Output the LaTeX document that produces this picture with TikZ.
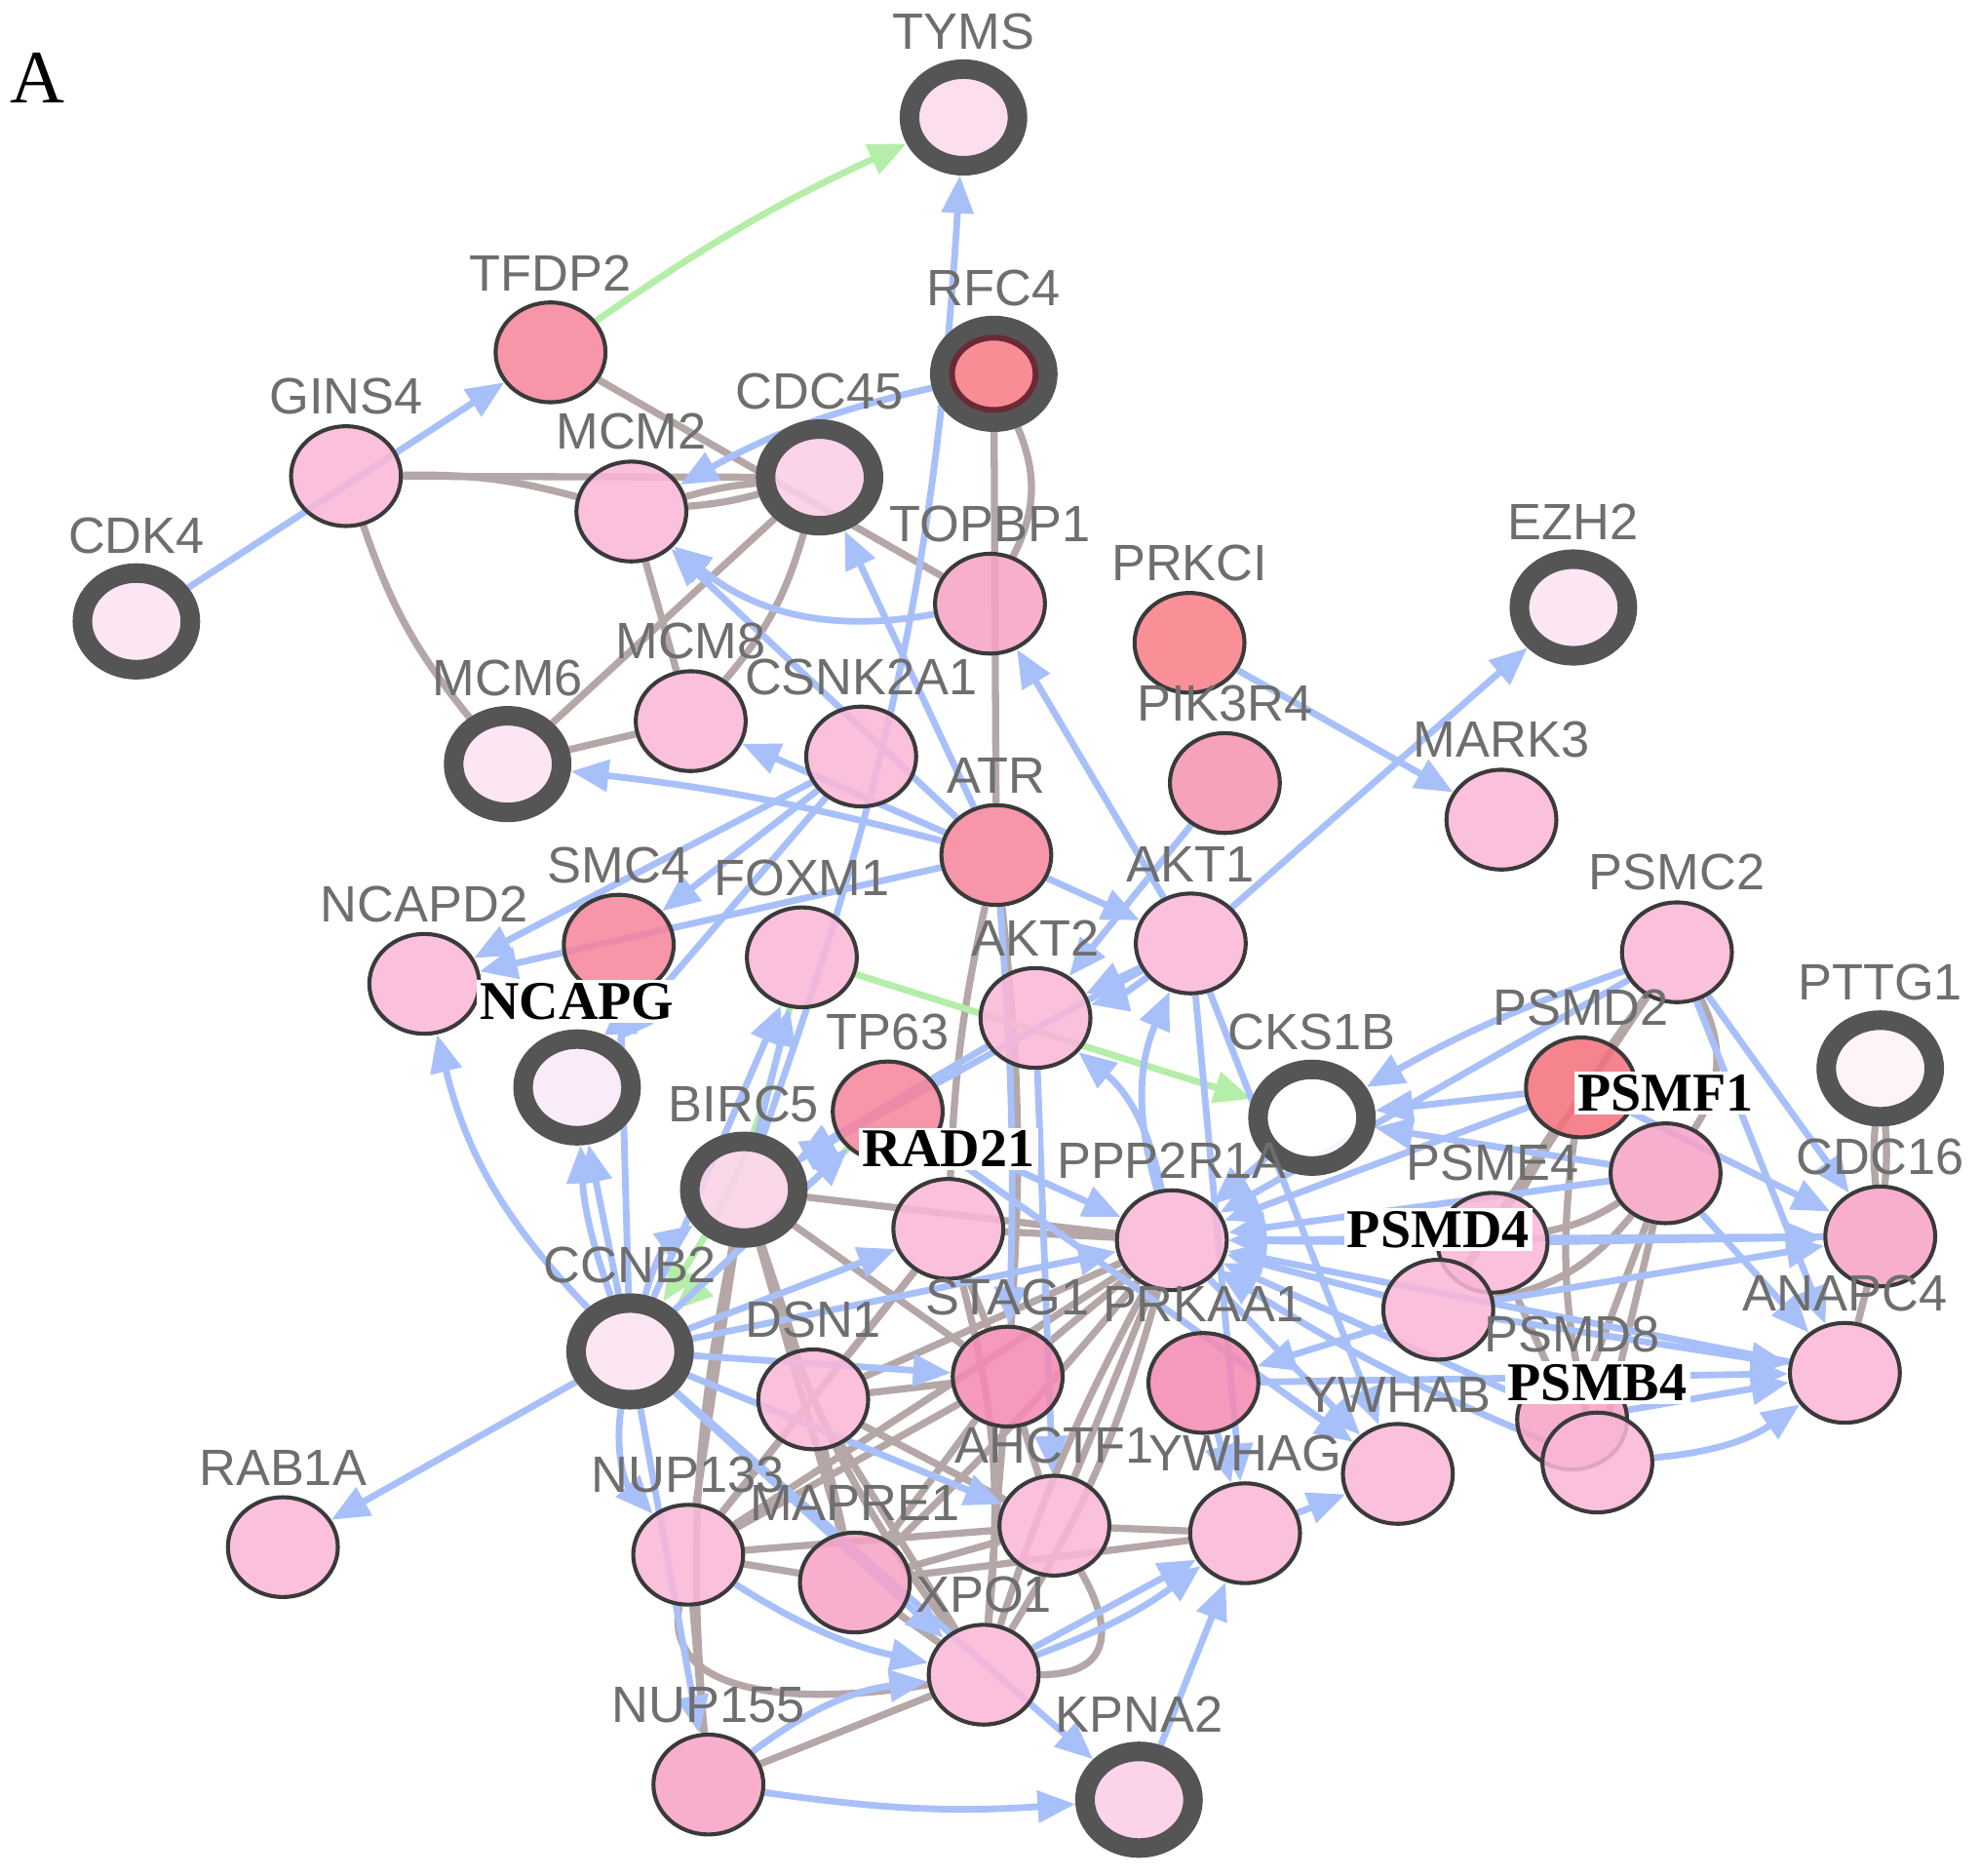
\documentclass[tikz,border=0pt]{standalone}
\usepackage{fontspec}
\setmainfont{Liberation Serif}
\newfontfamily\labfont{Liberation Sans}
\usetikzlibrary{arrows.meta,shapes.geometric,backgrounds}
\definecolor{blueE}{HTML}{A8C0FA}
\definecolor{brownE}{HTML}{B5A7A7}
\definecolor{greenE}{HTML}{B4EEA8}
\definecolor{ringC}{HTML}{555555}
\definecolor{bordC}{HTML}{3A3A3A}
\definecolor{labC}{HTML}{6E6E6E}
\definecolor{rfcin}{HTML}{6B2A35}
\definecolor{cL}{HTML}{FAB6D7}
\definecolor{cM}{HTML}{F8A2C7}
\definecolor{cS}{HTML}{F48AB3}
\definecolor{cP}{HTML}{F593B0}
\definecolor{cR}{HTML}{F6849C}
\definecolor{cRR}{HTML}{F97E88}
\definecolor{cPD}{HTML}{F5707D}
\definecolor{rTY}{HTML}{FCDAEC}
\definecolor{rCD}{HTML}{FCCFE7}
\definecolor{rLt}{HTML}{FDE3F2}
\definecolor{rNG}{HTML}{F9EAF8}
\definecolor{rPT}{HTML}{FEF3F7}
\definecolor{rBI}{HTML}{FBD2E8}
\newcommand\mylab[2]{\node[glabst, anchor=south] (#1-lab) at ([yshift=2pt]#1.north) {#2};}
\newcommand\myblab[2]{\node[blabst, anchor=south] (#1-lab) at ([yshift=1.3pt]#1.north) {#2};}
\begin{document}
\begin{tikzpicture}[x=0.01cm,y=-0.01cm,
  reg/.style={ellipse, draw=bordC, line width=0.9pt, minimum width=0.87cm, minimum height=0.79cm, inner sep=0pt, fill opacity=0.86},
  ring/.style={ellipse, draw=ringC, line width=4.4pt, minimum width=0.855cm, minimum height=0.765cm, inner sep=0pt, fill opacity=0.88},
  glabst/.style={font=\labfont\fontsize{11.5}{13}\selectfont, text=labC, inner sep=0pt},
  blabst/.style={font=\bfseries\fontsize{12.3}{14}\selectfont, text=black, fill=white, inner sep=0.7pt},
  be/.style={draw=blueE, line width=1.5pt, -{Triangle[length=8.5pt,width=7pt]}},
  bre/.style={draw=brownE, line width=1.6pt},
  ge/.style={draw=greenE, line width=1.5pt, -{Triangle[length=8.5pt,width=7pt]}}
]
\useasboundingbox (0,0) rectangle (1568,1485);
\begin{pgfonlayer}{background}
\fill[white] (0,0) rectangle (1568,1485);
\end{pgfonlayer}

\node[font=\fontsize{17}{20}\selectfont, inner sep=0pt] (panelA) at (30,62) {A};

% nodes
\node[ring, fill=rTY] (tyms) at (763,93) {};
\node[reg, fill=cR] (tfdp2) at (436,279) {};
\node[ring, fill=cRR] (rfc4) at (787,296) {};
\draw[rfcin, line width=1.3pt] (rfc4.center) ellipse [x radius=0.331cm, y radius=0.286cm];
\node[reg, fill=cL] (gins4) at (274,377) {};
\node[ring, fill=rCD] (cdc45) at (649,378) {};
\node[reg, fill=cL] (mcm2) at (500,405) {};
\node[ring, fill=rLt] (cdk4) at (108,492) {};
\node[reg, fill=cM] (topbp1) at (784,478) {};
\node[reg, fill=cRR] (prkci) at (942,509) {};
\node[ring, fill=rLt] (ezh2) at (1246,481) {};
\node[reg, fill=cL] (mcm8) at (547,571) {};
\node[reg, fill=cL] (csnk) at (682,599) {};
\node[ring, fill=rLt] (mcm6) at (402,605) {};
\node[reg, fill=cP] (pik3r4) at (970,620) {};
\node[reg, fill=cL] (mark3) at (1189,649) {};
\node[reg, fill=cR] (atr) at (789,677) {};
\node[reg, fill=cR] (smc4) at (490,748) {};
\node[reg, fill=cL] (ncapd2) at (336,779) {};
\node[reg, fill=cL] (foxm1) at (635,758) {};
\node[reg, fill=cL] (akt1) at (943,747) {};
\node[reg, fill=cL] (akt2) at (820,806) {};
\node[reg, fill=cL] (psmc2) at (1328,754) {};
\node[ring, fill=rNG] (ncapg) at (457,861) {};
\node[reg, fill=cR] (tp63) at (703,880) {};
\node[ring, fill=white] (cks1b) at (1039,885) {};
\node[reg, fill=cPD] (psmd2) at (1252,861) {};
\node[ring, fill=rPT] (pttg1) at (1489,846) {};
\node[reg, fill=cM] (psmf1) at (1319,929) {};
\node[ring, fill=rBI] (birc5) at (589,942) {};
\node[reg, fill=cL] (rad21) at (751,973) {};
\node[reg, fill=cL] (ppp2r1a) at (928,982) {};
\node[reg, fill=cL] (psme4) at (1182,984) {};
\node[reg, fill=cL] (psmd4) at (1139,1037) {};
\node[reg, fill=cM] (cdc16) at (1489,979) {};
\node[ring, fill=rLt] (ccnb2) at (499,1070) {};
\node[reg, fill=cL] (dsn1) at (644,1108) {};
\node[reg, fill=cS] (stag1) at (798,1090) {};
\node[reg, fill=cS] (prkaa1) at (953,1095) {};
\node[reg, fill=cL] (anapc4) at (1461,1087) {};
\node[reg, fill=cM] (psmd8) at (1245,1124) {};
\node[reg, fill=cL] (psmb4) at (1265,1158) {};
\node[reg, fill=cL] (ywhab) at (1107,1167) {};
\node[reg, fill=cL] (rab1a) at (224,1225) {};
\node[reg, fill=cL] (ahctf1) at (835,1208) {};
\node[reg, fill=cL] (ywhag) at (986,1214) {};
\node[reg, fill=cL] (nup133) at (545,1231) {};
\node[reg, fill=cM] (mapre1) at (677,1253) {};
\node[reg, fill=cL] (xpo1) at (779,1326) {};
\node[reg, fill=cM] (nup155) at (561,1413) {};
\node[ring, fill=rCD] (kpna2) at (902,1425) {};

\begin{pgfonlayer}{background}
% brown (undirected)
\draw[bre] (gins4) to[bend left=8] (mcm2);
\draw[bre] (gins4) -- (cdc45);
\draw[bre] (gins4) to[bend right=10] (mcm6);
\draw[bre] (mcm2) to[bend left=5] (cdc45);
\draw[bre] (mcm2) to[bend right=5] (cdc45);
\draw[bre] (tfdp2) -- (topbp1);
\draw[bre] (mcm2) -- (mcm8);
\draw[bre] (cdc45) -- (mcm6);
\draw[bre] (cdc45) to[bend left=12] (mcm8);
\draw[bre] (mcm6) -- (mcm8);
\draw[bre] (rfc4) -- (atr);
\draw[bre] (rfc4) to[bend left=25] (topbp1);
\draw[bre] (atr) to[bend right=5] (rad21);
\draw[bre] (atr) to[bend left=5] (stag1);
\draw[bre] (birc5) -- (ppp2r1a);
\draw[bre] (birc5) -- (stag1);
\draw[bre] (birc5) -- (dsn1);
\draw[bre] (birc5) to[bend right=10] (xpo1);
\draw[bre] (birc5) to[bend right=8] (nup155);
\draw[bre] (birc5) -- (nup133);
\draw[bre] (birc5) -- (mapre1);
\draw[bre] (rad21) -- (ppp2r1a);
\draw[bre] (rad21) -- (stag1);
\draw[bre] (rad21) -- (nup133);
\draw[bre] (rad21) -- (dsn1);
\draw[bre] (rad21) to[bend left=10] (xpo1);
\draw[bre] (stag1) -- (nup133);
\draw[bre] (stag1) -- (mapre1);
\draw[bre] (stag1) -- (xpo1);
\draw[bre] (stag1) -- (dsn1);
\draw[bre] (stag1) -- (ahctf1);
\draw[bre] (stag1) -- (ppp2r1a);
\draw[bre] (ppp2r1a) -- (nup133);
\draw[bre] (ppp2r1a) to[bend left=3] (mapre1);
\draw[bre] (ppp2r1a) -- (dsn1);
\draw[bre] (ppp2r1a) to[bend right=5] (xpo1);
\draw[bre] (ppp2r1a) to[bend left=8] (xpo1);
\draw[bre] (ppp2r1a) -- (ahctf1);
\draw[bre] (ahctf1) -- (nup133);
\draw[bre] (ahctf1) -- (mapre1);
\draw[bre] (ahctf1) -- (dsn1);
\draw[bre] (ahctf1) -- (ywhag);
\draw[bre] (mapre1) -- (ywhag);
\draw[bre] (mapre1) -- (nup133);
\draw[bre] (mapre1) -- (xpo1);
\draw[bre] (mapre1) -- (dsn1);
\draw[bre] (nup133) -- (nup155);
\draw[bre] (nup155) -- (xpo1);
\draw[bre] (dsn1) -- (nup133);
\draw[bre] (dsn1) -- (xpo1);
\draw[bre] (xpo1) to[out=0,in=-60,looseness=1.6] (ahctf1);
\draw[bre] (nup133) to[out=-100,in=190] (xpo1);
\draw[bre] (psmd2) -- (psmc2);
\draw[bre] (psmc2) -- (psmd4);
\draw[bre] (psmc2) to[bend left=30] (psmf1);
\draw[bre] (psmd2) -- (psme4);
\draw[bre] (psmd2) -- (psmd4);
\draw[bre] (psmd2) to[bend right=10] (psmb4);
\draw[bre] (psmf1) to[bend left=20] (psmd4);
\draw[bre] (psmf1) to[bend left=10] (psme4);
\draw[bre] (psmf1) -- (psmd8);
\draw[bre] (psmf1) -- (psmb4);
\draw[bre] (psme4) -- (psmd8);
\draw[bre] (pttg1) to[bend left=5] (cdc16);
\draw[bre] (pttg1) to[bend right=5] (cdc16);
\draw[bre] (cdc16) -- (anapc4);
% green (directed)
\draw[ge] (tfdp2) to[bend left=5] (tyms);
\draw[ge] (foxm1) -- (cks1b);
\draw[ge] (foxm1) to[bend left=10] (ccnb2);
\draw[ge] (tp63) -- (ccnb2);
% blue (directed)
\draw[be] (cdk4) -- (tfdp2);
\draw[be] (birc5) to[bend right=8] (tyms);
\draw[be] (rfc4) to[bend right=8] (mcm2);
\draw[be] (topbp1) to[bend left=25] (mcm2);
\draw[be] (atr) -- (cdc45);
\draw[be] (atr) -- (mcm2);
\draw[be] (atr) -- (mcm8);
\draw[be] (atr) to[bend right=4] (mcm6);
\draw[be] (akt1) -- (topbp1);
\draw[be] (atr) -- (akt1);
\draw[be] (pik3r4) -- (akt2);
\draw[be] (akt1) -- (ezh2);
\draw[be] (prkci) -- (mark3);
\draw[be] (csnk) -- (smc4);
\draw[be] (csnk) -- (ncapd2);
\draw[be] (csnk) -- (ncapg);
\draw[be] (atr) -- (ncapd2);
\draw[be] (akt1) -- (akt2);
\draw[be] (akt1) to[bend left=12] (akt2);
\draw[be] (ppp2r1a) to[bend right=20] (akt2);
\draw[be] (ppp2r1a) to[bend left=20] (akt1);
\draw[be] (akt1) -- (ywhab);
\draw[be] (akt1) -- (ywhag);
\draw[be] (atr) to[bend left=3] (stag1);
\draw[be] (akt2) -- (ahctf1);
\draw[be] (akt2) -- (birc5);
\draw[be] (akt1) -- (birc5);
\draw[be] (birc5) -- (foxm1);
\draw[be] (ccnb2) -- (foxm1);
\draw[be] (birc5) -- (tp63);
\draw[be] (tp63) -- (ppp2r1a);
\draw[be] (tp63) -- (ywhab);
\draw[be] (ccnb2) to[bend left=15] (ncapd2);
\draw[be] (ccnb2) -- (ncapg);
\draw[be] (ccnb2) to[bend left=8] (ncapg);
\draw[be] (ccnb2) -- (smc4);
\draw[be] (ccnb2) to[bend left=20] (birc5);
\draw[be] (ccnb2) -- (rab1a);
\draw[be] (ccnb2) to[bend right=25] (nup133);
\draw[be] (ccnb2) -- (nup155);
\draw[be] (ccnb2) -- (xpo1);
\draw[be] (ccnb2) -- (kpna2);
\draw[be] (ccnb2) -- (rad21);
\draw[be] (ccnb2) -- (stag1);
\draw[be] (ccnb2) -- (ahctf1);
\draw[be] (ccnb2) -- (ppp2r1a);
\draw[be] (ccnb2) -- (tp63);
\draw[be] (nup133) to[bend right=10] (xpo1);
\draw[be] (nup155) to[bend left=15] (xpo1);
\draw[be] (nup155) to[bend right=6] (kpna2);
\draw[be] (xpo1) -- (ywhag);
\draw[be] (xpo1) to[bend right=8] (ywhag);
\draw[be] (ywhag) -- (ywhab);
\draw[be] (kpna2) -- (ywhag);
\draw[be] (prkaa1) -- (ywhag);
\draw[be] (ppp2r1a) -- (ywhab);
\draw[be] (psmc2) to[bend right=5] (cks1b);
\draw[be] (psmd2) -- (cks1b);
\draw[be] (psmf1) -- (cks1b);
\draw[be] (cks1b) -- (ppp2r1a);
\draw[be] (psmc2) -- (ppp2r1a);
\draw[be] (psmd2) -- (ppp2r1a);
\draw[be] (psmf1) -- (ppp2r1a);
\draw[be] (psme4) -- (ppp2r1a);
\draw[be] (psmd4) -- (ppp2r1a);
\draw[be] (psmd8) -- (ppp2r1a);
\draw[be] (psmb4) to[bend left=5] (ppp2r1a);
\draw[be] (cdc16) -- (ppp2r1a);
\draw[be] (anapc4) -- (ppp2r1a);
\draw[be] (psmc2) -- (cdc16);
\draw[be] (psmc2) -- (anapc4);
\draw[be] (psmd2) -- (cdc16);
\draw[be] (psmf1) -- (anapc4);
\draw[be] (psme4) -- (cdc16);
\draw[be] (psmd4) -- (cdc16);
\draw[be] (psmd4) -- (anapc4);
\draw[be] (psmd8) -- (anapc4);
\draw[be] (psmb4) to[bend right=15] (anapc4);
\draw[be] (prkaa1) -- (anapc4);
\draw[be] (psmd4) -- (prkaa1);
\end{pgfonlayer}

% labels
\mylab{tyms}{TYMS}
\mylab{tfdp2}{TFDP2}
\mylab{rfc4}{RFC4}
\mylab{gins4}{GINS4}
\mylab{cdc45}{CDC45}
\mylab{mcm2}{MCM2}
\mylab{cdk4}{CDK4}
\mylab{topbp1}{TOPBP1}
\mylab{prkci}{PRKCI}
\mylab{ezh2}{EZH2}
\mylab{mcm8}{MCM8}
\mylab{csnk}{CSNK2A1}
\mylab{mcm6}{MCM6}
\mylab{pik3r4}{PIK3R4}
\mylab{mark3}{MARK3}
\mylab{atr}{ATR}
\mylab{smc4}{SMC4}
\mylab{ncapd2}{NCAPD2}
\mylab{foxm1}{FOXM1}
\mylab{akt1}{AKT1}
\mylab{akt2}{AKT2}
\mylab{psmc2}{PSMC2}
\mylab{tp63}{TP63}
\mylab{cks1b}{CKS1B}
\mylab{psmd2}{PSMD2}
\mylab{pttg1}{PTTG1}
\mylab{birc5}{BIRC5}
\mylab{ppp2r1a}{PPP2R1A}
\mylab{psme4}{PSME4}
\mylab{cdc16}{CDC16}
\mylab{ccnb2}{CCNB2}
\mylab{dsn1}{DSN1}
\mylab{stag1}{STAG1}
\mylab{prkaa1}{PRKAA1}
\mylab{anapc4}{ANAPC4}
\node[glabst, anchor=south] (psmd8-lab) at ([yshift=3.2pt]psmd8.north) {PSMD8};
\mylab{ywhab}{YWHAB}
\mylab{rab1a}{RAB1A}
\mylab{ahctf1}{AHCTF1}
\mylab{ywhag}{YWHAG}
\mylab{nup133}{NUP133}
\mylab{mapre1}{MAPRE1}
\mylab{xpo1}{XPO1}
\mylab{nup155}{NUP155}
\mylab{kpna2}{KPNA2}
\myblab{ncapg}{NCAPG}
\myblab{rad21}{RAD21}
\myblab{psmf1}{PSMF1}
\myblab{psmd4}{PSMD4}
\myblab{psmb4}{PSMB4}
\end{tikzpicture}
\end{document}
